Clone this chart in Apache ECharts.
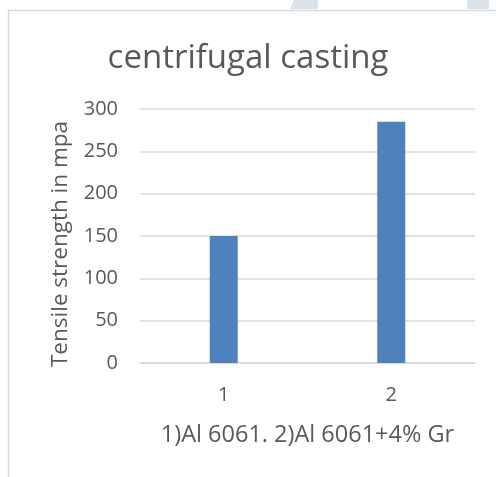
<!DOCTYPE html>
<html>
<head>
<meta charset="utf-8">
<style>
  html, body { margin: 0; padding: 0; background: #fff; }
  #chart { width: 496px; height: 477px; }
</style>
<script src="https://cdn.jsdelivr.net/npm/echarts@6/dist/echarts.min.js"></script>
</head>
<body>
<div id="chart"></div>
<script>
// Sample labels and tensile strength readings (MPa)
const categories = ['1', '2'];
const tensileStrength = [150, 285];
const yTicks = { min: 0, max: 300, interval: 50 };

const titleText = 'centrifugal casting';
const yAxisTitle = 'Tensile strength in mpa';
const xAxisTitle = '1)Al 6061. 2)Al 6061+4% Gr';

const FONT = 'Open Sans, Lato, sans-serif';
const TEXT = '#595959';
const GRID = '#D9D9D9';

const chart = echarts.init(document.getElementById('chart'), null, { renderer: 'canvas' });

chart.setOption({
  animation: false,
  backgroundColor: '#ffffff',
  title: {
    text: titleText,
    left: 'center',
    top: 37,
    textStyle: { color: TEXT, fontFamily: FONT, fontSize: 33, fontWeight: 'normal' }
  },
  grid: { left: 140, right: 21, top: 109, bottom: 114, containLabel: false },
  xAxis: {
    type: 'category',
    data: categories,
    name: xAxisTitle,
    nameLocation: 'middle',
    nameGap: 60,
    nameTextStyle: { color: TEXT, fontFamily: FONT, fontSize: 23.5 },
    axisLine: { show: true, lineStyle: { color: GRID, width: 1.5 } },
    axisTick: { show: false },
    axisLabel: { color: TEXT, fontFamily: FONT, fontSize: 20, margin: 22 }
  },
  yAxis: {
    type: 'value',
    min: yTicks.min,
    max: yTicks.max,
    interval: yTicks.interval,
    name: yAxisTitle,
    nameLocation: 'middle',
    nameRotate: 90,
    nameGap: 68,
    nameTextStyle: { color: TEXT, fontFamily: FONT, fontSize: 22.5, padding: [0, 16, 0, 0] },
    axisLine: { show: false },
    axisTick: { show: false },
    axisLabel: { color: TEXT, fontFamily: FONT, fontSize: 20, margin: 22 },
    splitLine: { lineStyle: { color: GRID, width: 1.5 } }
  },
  series: [{
    type: 'bar',
    data: tensileStrength,
    barWidth: 28,
    itemStyle: { color: '#4F81BD' },
    silent: true
  }],
  graphic: [
    // chart frame
    {
      type: 'polyline',
      shape: { points: [[8.5, 477], [8.5, 10.5], [496, 10.5]] },
      style: { stroke: '#D9D9D9', lineWidth: 1.5, fill: null },
      silent: true
    },
    // page decorations along the top edge
    {
      type: 'polygon',
      shape: { points: [[294, 0], [318, 0], [318, 9], [290, 9]] },
      style: { fill: '#DCE3E8' },
      silent: true
    },
    {
      type: 'rect',
      shape: { x: 467, y: 0, width: 22, height: 9 },
      style: { fill: '#DCE3E8' },
      silent: true
    }
  ]
});
</script>
</body>
</html>
